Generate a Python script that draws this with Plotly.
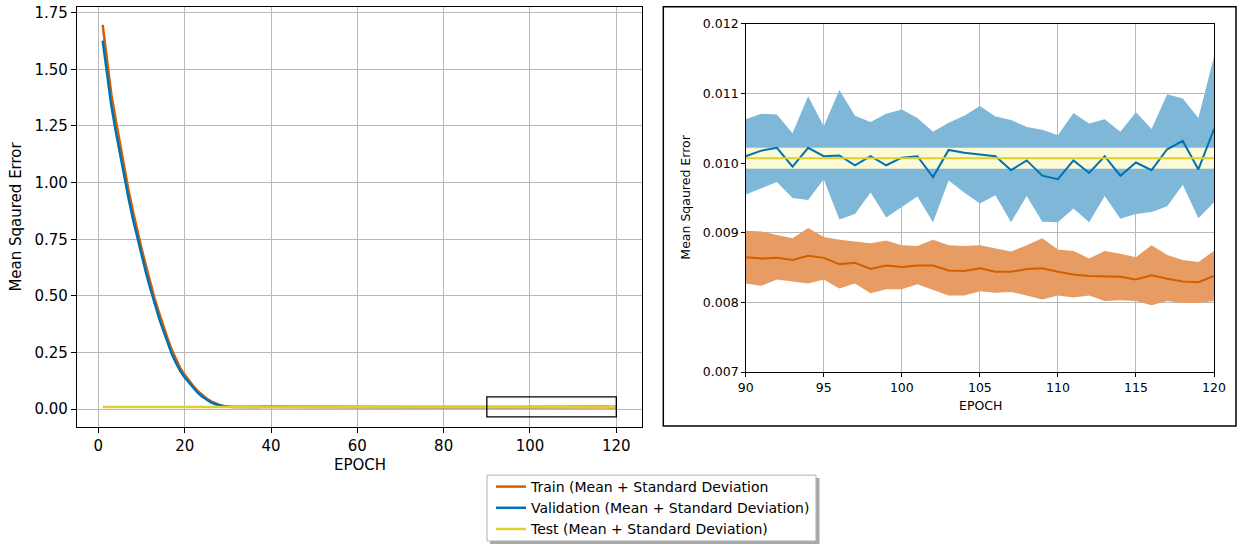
import plotly.graph_objects as go

# ---------------- data ----------------
epochs = list(range(1, 121))
epochs_zoom = list(range(90, 121))

train_mean_early = [1.696, 1.53, 1.39, 1.28, 1.17, 1.06, 0.965, 0.875, 0.79, 0.71,
                    0.635, 0.56, 0.49, 0.43, 0.37, 0.315, 0.262, 0.218, 0.18, 0.152,
                    0.126, 0.102, 0.081, 0.063, 0.048, 0.036, 0.026, 0.019, 0.014, 0.011,
                    0.0098, 0.0097, 0.0097, 0.0096, 0.0096, 0.0095, 0.0095, 0.0095, 0.0094, 0.0094,
                    0.0094, 0.0093, 0.0093, 0.0093, 0.0092, 0.0092, 0.0092, 0.0092, 0.0091, 0.0091,
                    0.0091, 0.0091, 0.0090, 0.0090, 0.0090, 0.0090, 0.0090, 0.0089, 0.0089, 0.0089,
                    0.0089, 0.0089, 0.0089, 0.0088, 0.0088, 0.0088, 0.0088, 0.0088, 0.0088, 0.0088,
                    0.0087, 0.0087, 0.0087, 0.0087, 0.0087, 0.0087, 0.0087, 0.0087, 0.0087, 0.0087,
                    0.0086, 0.0087, 0.0086, 0.0087, 0.0086, 0.0086, 0.0087, 0.0086, 0.0086]

val_mean_early = [1.627, 1.47, 1.34, 1.23, 1.125, 1.02, 0.93, 0.84, 0.76, 0.68,
                  0.605, 0.535, 0.465, 0.405, 0.35, 0.295, 0.245, 0.203, 0.168, 0.14,
                  0.116, 0.093, 0.073, 0.056, 0.042, 0.031, 0.023, 0.017, 0.013, 0.011,
                  0.0105, 0.0104, 0.0103, 0.0103, 0.0102, 0.0103, 0.0101, 0.0102, 0.0101, 0.0102,
                  0.0100, 0.0102, 0.0101, 0.0099, 0.0101, 0.0102, 0.0100, 0.0101, 0.0099, 0.0101,
                  0.0102, 0.0100, 0.0101, 0.0099, 0.0102, 0.0100, 0.0101, 0.0100, 0.0098, 0.0101,
                  0.0102, 0.0100, 0.0099, 0.0101, 0.0100, 0.0102, 0.0099, 0.0101, 0.0100, 0.0101,
                  0.0099, 0.0102, 0.0100, 0.0101, 0.0098, 0.0101, 0.0100, 0.0102, 0.0099, 0.0101,
                  0.0100, 0.0101, 0.0099, 0.0102, 0.0100, 0.0101, 0.0099, 0.0101, 0.0100]

# epochs 90..120
train_mean_late = [0.00865, 0.00863, 0.00864, 0.00861, 0.00867, 0.00864, 0.00855, 0.00857, 0.00848, 0.00853,
                   0.00851, 0.00853, 0.00853, 0.00846, 0.00845, 0.00849, 0.00844, 0.00844, 0.00848, 0.00849,
                   0.00844, 0.00840, 0.00838, 0.00838, 0.00837, 0.00833, 0.00839, 0.00834, 0.00830, 0.00829,
                   0.00838]
train_upper_late = [0.00903, 0.00902, 0.00897, 0.00892, 0.00907, 0.00894, 0.00890, 0.00887, 0.00885, 0.00889,
                    0.00882, 0.00881, 0.00890, 0.00882, 0.00881, 0.00882, 0.00877, 0.00873, 0.00882, 0.00892,
                    0.00876, 0.00874, 0.00863, 0.00874, 0.00870, 0.00865, 0.00882, 0.00868, 0.00861, 0.00858,
                    0.00874]
train_lower_late = [0.00827, 0.00824, 0.00833, 0.00830, 0.00827, 0.00833, 0.00820, 0.00827, 0.00813, 0.00819,
                    0.00819, 0.00826, 0.00818, 0.00810, 0.00810, 0.00816, 0.00814, 0.00815, 0.00810, 0.00804,
                    0.00810, 0.00807, 0.00810, 0.00802, 0.00803, 0.00802, 0.00796, 0.00802, 0.00799, 0.00799,
                    0.00802]

val_mean_late = [0.01010, 0.01018, 0.01022, 0.00995, 0.01022, 0.01010, 0.01011, 0.00997, 0.01010, 0.00997,
                 0.01008, 0.01010, 0.00980, 0.01019, 0.01015, 0.01013, 0.01010, 0.00990, 0.01004, 0.00982,
                 0.00977, 0.01004, 0.00986, 0.01010, 0.00982, 0.01001, 0.00990, 0.01020, 0.01032, 0.00991,
                 0.01049]
val_upper_late = [0.01063, 0.01071, 0.01070, 0.01043, 0.01096, 0.01053, 0.01105, 0.01068, 0.01059, 0.01071,
                  0.01077, 0.01065, 0.01045, 0.01058, 0.01068, 0.01082, 0.01067, 0.01062, 0.01052, 0.01048,
                  0.01040, 0.01072, 0.01057, 0.01063, 0.01045, 0.01073, 0.01049, 0.01099, 0.01093, 0.01065,
                  0.01153]
val_lower_late = [0.00955, 0.00964, 0.00973, 0.00950, 0.00947, 0.00977, 0.00919, 0.00927, 0.00958, 0.00922,
                  0.00937, 0.00952, 0.00915, 0.00975, 0.00958, 0.00942, 0.00954, 0.00915, 0.00953, 0.00916,
                  0.00915, 0.00935, 0.00915, 0.00953, 0.00920, 0.00927, 0.00930, 0.00938, 0.00969, 0.00921,
                  0.00944]

test_mean = 0.01007
test_std = 0.00015

legend_names = ["Train (Mean + Standard Deviation",
                "Validation (Mean + Standard Deviation)",
                "Test (Mean + Standard Deviation)"]

# ---------------- styles ----------------
C_TRAIN = "#d55e00"
C_VAL = "#0072b2"
C_TEST = "#dccf2e"
F_TRAIN = "#e69c63"
F_VAL = "#7fb7d9"
F_TEST = "#fbf9d6"
FONT = "DejaVu Sans"

train_full = train_mean_early + train_mean_late
val_full = val_mean_early + val_mean_late

fig = go.Figure()

# ---- left (main) chart ----
fig.add_trace(go.Scatter(x=epochs, y=train_full, mode="lines", name=legend_names[0],
                         line=dict(color=C_TRAIN, width=2.5), xaxis="x", yaxis="y"))
fig.add_trace(go.Scatter(x=epochs, y=val_full, mode="lines", name=legend_names[1],
                         line=dict(color=C_VAL, width=2.5), xaxis="x", yaxis="y"))
fig.add_trace(go.Scatter(x=[epochs[0], epochs[-1]], y=[test_mean, test_mean], mode="lines",
                         name=legend_names[2], line=dict(color=C_TEST, width=2.5),
                         xaxis="x", yaxis="y"))


def band(x, lo, hi, fill, ax):
    fig.add_trace(go.Scatter(x=x, y=lo, mode="lines", line=dict(width=0, color=fill),
                             showlegend=False, hoverinfo="skip", xaxis=ax[0], yaxis=ax[1]))
    fig.add_trace(go.Scatter(x=x, y=hi, mode="lines", line=dict(width=0, color=fill),
                             fill="tonexty", fillcolor=fill, showlegend=False,
                             hoverinfo="skip", xaxis=ax[0], yaxis=ax[1]))


# ---- right (zoom) chart ----
band(epochs_zoom, train_lower_late, train_upper_late, F_TRAIN, ("x2", "y2"))
band(epochs_zoom, val_lower_late, val_upper_late, F_VAL, ("x2", "y2"))
band([epochs_zoom[0], epochs_zoom[-1]], [test_mean - test_std] * 2, [test_mean + test_std] * 2,
     F_TEST, ("x2", "y2"))
fig.add_trace(go.Scatter(x=epochs_zoom, y=train_mean_late, mode="lines", showlegend=False,
                         line=dict(color=C_TRAIN, width=2), xaxis="x2", yaxis="y2"))
fig.add_trace(go.Scatter(x=epochs_zoom, y=val_mean_late, mode="lines", showlegend=False,
                         line=dict(color=C_VAL, width=2), xaxis="x2", yaxis="y2"))
fig.add_trace(go.Scatter(x=[epochs_zoom[0], epochs_zoom[-1]], y=[test_mean, test_mean],
                         mode="lines", showlegend=False,
                         line=dict(color=C_TEST, width=2), xaxis="x2", yaxis="y2"))

W, H = 1243, 545


def px(x):
    return x / W


def py(y):
    return (H - y) / H


axis_common = dict(showline=True, mirror=True, linecolor="black", linewidth=1.2,
                   ticks="outside", tickcolor="black", showgrid=True, automargin=False,
                   gridcolor="#b8b8b8", gridwidth=1, zeroline=False)

fig.update_layout(
    template="none",
    width=W, height=H,
    margin=dict(l=0, r=0, t=0, b=0, pad=0),
    paper_bgcolor="white", plot_bgcolor="white",
    font=dict(family=FONT, color="black"),
    xaxis=dict(domain=[px(77), px(642)], range=[-4.95, 125.95], tickvals=[0, 20, 40, 60, 80, 100, 120],
               ticklen=5, tickfont=dict(size=15), anchor="y", **axis_common),
    yaxis=dict(domain=[py(427.3), py(6.7)], range=[-0.0765, 1.7765],
               tickvals=[0, 0.25, 0.5, 0.75, 1.0, 1.25, 1.5, 1.75], tickformat=".2f",
               ticklen=5, tickfont=dict(size=15), anchor="x", **axis_common),
    xaxis2=dict(domain=[px(745.7), px(1214)], range=[90, 120], tickvals=[90, 95, 100, 105, 110, 115, 120],
                ticklen=3.5, tickfont=dict(size=12.5), anchor="y2", **axis_common),
    yaxis2=dict(domain=[py(372.7), py(24)], range=[0.007, 0.012],
                tickvals=[0.007, 0.008, 0.009, 0.010, 0.011, 0.012], tickformat=".3f",
                ticklen=3.5, tickfont=dict(size=12.5), anchor="x2", **axis_common),
    showlegend=True,
    legend=dict(x=px(491), y=py(472), xanchor="left", yanchor="top", traceorder="normal",
                bgcolor="rgba(0,0,0,0)", borderwidth=0,
                font=dict(size=14, family=FONT), tracegroupgap=0),
)

# zoom rectangle on main chart
fig.add_shape(type="rect", xref="x", yref="y", x0=90, x1=120, y0=-0.034, y1=0.054,
              line=dict(color="black", width=1.3), fillcolor="rgba(0,0,0,0)", layer="above")
# frame around the inset figure
fig.add_shape(type="rect", xref="paper", yref="paper", x0=px(663.3), x1=px(1236), y0=py(426.7), y1=py(6.7),
              line=dict(color="black", width=1.5), fillcolor="rgba(0,0,0,0)", layer="above")
# legend shadow and frame
fig.add_shape(type="rect", xref="paper", yref="paper", x0=px(490), x1=px(819.5), y0=py(545), y1=py(479),
              line=dict(width=0), fillcolor="#a8a8a8", layer="below")
fig.add_shape(type="rect", xref="paper", yref="paper", x0=px(487), x1=px(816), y0=py(542), y1=py(476),
              line=dict(width=1, color="#b0b0b0"), fillcolor="white", layer="below")

# axis titles
fig.add_annotation(text="EPOCH", x=px(360), y=py(466), xref="paper", yref="paper",
                   showarrow=False, font=dict(size=15), xanchor="center", yanchor="middle")
fig.add_annotation(text="Mean Sqaured Error", x=px(16), y=py(217), xref="paper", yref="paper",
                   showarrow=False, font=dict(size=15), textangle=-90, xanchor="center", yanchor="middle")
fig.add_annotation(text="EPOCH", x=px(980), y=py(406), xref="paper", yref="paper",
                   showarrow=False, font=dict(size=12.5), xanchor="center", yanchor="middle")
fig.add_annotation(text="Mean Sqaured Error", x=px(686), y=py(198), xref="paper", yref="paper",
                   showarrow=False, font=dict(size=12.5), textangle=-90, xanchor="center", yanchor="middle")

fig.write_html("out.html", config={"displayModeBar": False},
               post_script="document.body.style.margin='0px';document.body.style.overflow='hidden';")
